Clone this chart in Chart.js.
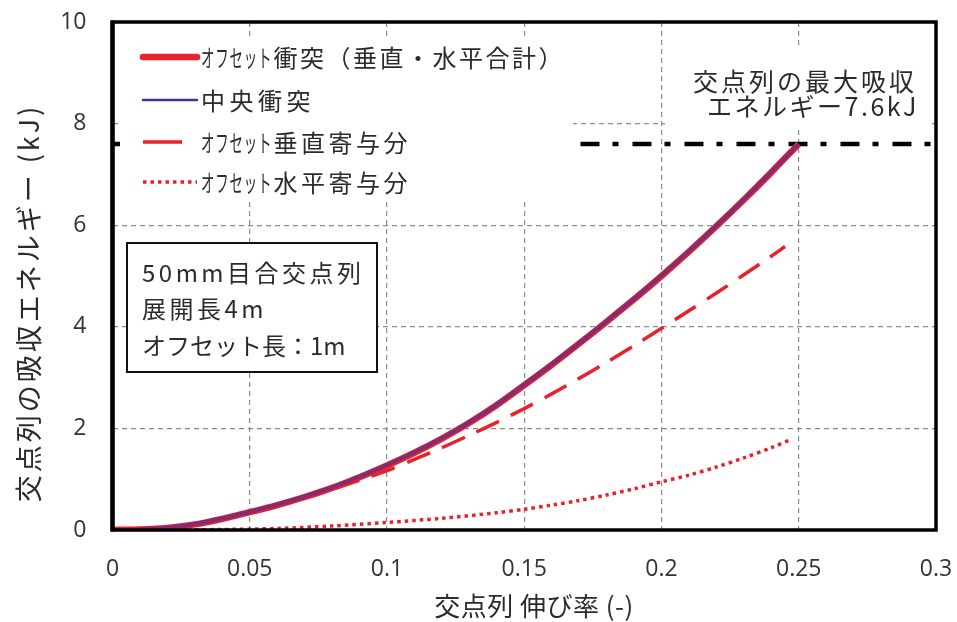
<!DOCTYPE html>
<html>
<head>
<meta charset="utf-8">
<script src="https://cdn.jsdelivr.net/npm/chart.js@4.4.1/dist/chart.umd.min.js"></script>
<style>
  html, body { margin: 0; padding: 0; background: #ffffff; }
  #wrap { width: 957px; height: 622px; }
</style>
</head>
<body>
<div id="wrap"><canvas id="chart" width="957" height="622"></canvas></div>
<script>
// 交点列 伸び率 (-) vs 吸収エネルギー (kJ)
const strainMain = [0, 0.01, 0.02, 0.03, 0.04, 0.05, 0.06, 0.07, 0.08, 0.09, 0.10, 0.11, 0.12,
                    0.13, 0.14, 0.15, 0.16, 0.17, 0.18, 0.19, 0.20, 0.21, 0.22, 0.23, 0.24, 0.25];
const energyOffsetTotal = [0, 0.01, 0.04, 0.11, 0.22, 0.35, 0.49, 0.65, 0.83, 1.04, 1.27, 1.52, 1.80,
                           2.11, 2.46, 2.85, 3.25, 3.67, 4.10, 4.54, 5.00, 5.48, 5.98, 6.50, 7.04, 7.60];
const energyCentral = [0, 0.01, 0.05, 0.12, 0.23, 0.36, 0.50, 0.66, 0.84, 1.05, 1.28, 1.53, 1.81,
                       2.12, 2.47, 2.86, 3.26, 3.68, 4.11, 4.55, 5.01, 5.49, 5.99, 6.51, 7.05, 7.60];

const strainVertical = [0, 0.02, 0.04, 0.05, 0.06, 0.07, 0.08, 0.09, 0.10, 0.11, 0.12, 0.13, 0.14,
                        0.15, 0.16, 0.17, 0.18, 0.19, 0.20, 0.21, 0.22, 0.23, 0.24, 0.245];
const energyVertical = [0, 0.04, 0.21, 0.33, 0.47, 0.63, 0.80, 0.98, 1.17, 1.39, 1.62, 1.865, 2.12,
                        2.39, 2.68, 2.985, 3.30, 3.63, 3.97, 4.315, 4.665, 5.025, 5.39, 5.58];

const strainHorizontal = [0, 0.02, 0.04, 0.06, 0.08, 0.10, 0.12, 0.14, 0.15, 0.16, 0.17, 0.18,
                          0.19, 0.20, 0.21, 0.22, 0.23, 0.24, 0.2475];
const energyHorizontal = [0, 0, 0.01, 0.03, 0.08, 0.15, 0.23, 0.34, 0.41, 0.49, 0.58, 0.69,
                          0.81, 0.95, 1.08, 1.24, 1.42, 1.62, 1.79];

const maxEnergy = 7.6;
const maxLineStrain = [0, 0.3];

const xTickLabels = ['0', '0.05', '0.1', '0.15', '0.2', '0.25', '0.3'];
const yTickLabels = ['0', '2', '4', '6', '8', '10'];

// legend entries: condensed katakana prefix + remaining text
const seriesPrefix = ['オフセット', '', 'オフセット', 'オフセット'];
const seriesRest = ['衝突（垂直・水平合計）', '中央衝突', '垂直寄与分', '水平寄与分'];
const infoLines = ['50mm目合交点列', '展開長4m', 'オフセット長：1m'];
const maxLabelLines = ['交点列の最大吸収', 'エネルギー7.6kJ'];
const xTitle = '交点列 伸び率 (-)';
const yTitle = '交点列の吸収エネルギー (kJ)';

const pairs = (xs, ys) => xs.map((v, i) => ({ x: v, y: ys[i] }));

const RED = '#e8212b';
const BLUE = 'rgba(70, 50, 160, 0.62)';
const TEXT = '#2b2b2b';
const JP = '"Noto Sans CJK JP", "Noto Sans", sans-serif';
const NUM = '"Open Sans", "Noto Sans", sans-serif';

function drawSpaced(ctx, text, x, y, spacing) {
  ctx.letterSpacing = spacing + 'px';
  ctx.fillText(text, x, y);
  ctx.letterSpacing = '0px';
}

// draws text squeezed horizontally, returns the drawn width
function drawCondensed(ctx, text, x, y, factor, spacing) {
  ctx.save();
  ctx.translate(x, y);
  ctx.scale(factor, 1);
  ctx.letterSpacing = spacing + 'px';
  ctx.fillText(text, 0, 0);
  const w = ctx.measureText(text).width * factor;
  ctx.restore();
  return w;
}

const decorations = {
  id: 'decorations',
  afterDatasetsDraw(chart) {
    const { ctx } = chart;
    ctx.save();

    // legend panel and annotation panel (white, hides the grid behind)
    ctx.fillStyle = '#ffffff';
    ctx.fillRect(120, 36, 453, 164);
    ctx.fillRect(665, 46, 263, 82);

    // legend samples
    const sx0 = 143, sx1 = 197;
    const rows = [57, 100, 142, 182];
    ctx.lineCap = 'round';
    ctx.strokeStyle = RED; ctx.lineWidth = 6.5;
    ctx.beginPath(); ctx.moveTo(sx0, rows[0]); ctx.lineTo(sx1, rows[0]); ctx.stroke();
    ctx.strokeStyle = 'rgb(58, 52, 150)'; ctx.lineWidth = 2.5;
    ctx.beginPath(); ctx.moveTo(sx0, rows[1]); ctx.lineTo(sx1, rows[1]); ctx.stroke();
    ctx.lineCap = 'butt';
    ctx.strokeStyle = RED; ctx.lineWidth = 3.5;
    ctx.beginPath(); ctx.moveTo(sx0, rows[2]); ctx.lineTo(182, rows[2]); ctx.stroke();
    ctx.lineWidth = 3.5; ctx.setLineDash([3.5, 4]);
    ctx.beginPath(); ctx.moveTo(sx0, rows[3]); ctx.lineTo(sx1, rows[3]); ctx.stroke();
    ctx.setLineDash([]);

    ctx.fillStyle = TEXT;
    ctx.textAlign = 'left';
    ctx.textBaseline = 'middle';
    ctx.font = '24px ' + JP;
    const rowSpacing = [2.5, 4.5, 3.5, 3.5];
    seriesRest.forEach((t, i) => {
      let x = 201;
      if (seriesPrefix[i]) x += drawCondensed(ctx, seriesPrefix[i], x, rows[i] + 1, 0.56, 1.5) + 1;
      drawSpaced(ctx, t, x, rows[i] + 1, rowSpacing[i]);
    });

    // maximum energy annotation
    ctx.textAlign = 'right';
    ctx.font = '25px ' + JP;
    drawSpaced(ctx, maxLabelLines[0], 917, 81, 3);
    drawSpaced(ctx, maxLabelLines[1], 919, 106, 2.5);

    // condition box
    ctx.fillStyle = '#ffffff';
    ctx.fillRect(127, 243, 250, 129);
    ctx.strokeStyle = '#111111'; ctx.lineWidth = 2;
    ctx.strokeRect(127, 243, 250, 129);
    ctx.fillStyle = TEXT;
    ctx.textAlign = 'left';
    ctx.font = '24px ' + JP;
    drawSpaced(ctx, infoLines[0], 142, 273, 3.5);
    drawSpaced(ctx, infoLines[1], 142, 309, 3.5);
    drawSpaced(ctx, infoLines[2], 142, 346, 0);

    ctx.restore();
  },
  afterDraw(chart) {
    const { ctx, chartArea: a } = chart;
    ctx.save();
    // plot frame
    ctx.strokeStyle = '#000000';
    ctx.lineWidth = 3.5;
    ctx.strokeRect(a.left, a.top, a.right - a.left, a.bottom - a.top);
    ctx.lineWidth = 4.5;
    ctx.beginPath(); ctx.moveTo(a.left, a.top - 1.5); ctx.lineTo(a.left, a.bottom + 1.5); ctx.stroke();

    // axis titles
    ctx.fillStyle = TEXT;
    ctx.textAlign = 'center';
    ctx.textBaseline = 'middle';
    ctx.font = '26px ' + JP;
    drawSpaced(ctx, xTitle, 534, 606, 0.5);

    ctx.translate(29, 303);
    ctx.rotate(-Math.PI / 2);
    ctx.font = '27px ' + JP;
    drawSpaced(ctx, yTitle, 0, 0, 3);
    ctx.restore();
  }
};

new Chart(document.getElementById('chart'), {
  type: 'scatter',
  data: {
    datasets: [
      { label: seriesRest[1], data: pairs(strainMain, energyCentral), showLine: true,
        borderColor: BLUE, borderWidth: 4, pointRadius: 0, tension: 0.3 },
      { label: seriesRest[0], data: pairs(strainMain, energyOffsetTotal), showLine: true,
        borderColor: RED, borderWidth: 6.5, pointRadius: 0, tension: 0.3 },
      { label: seriesRest[2], data: pairs(strainVertical, energyVertical), showLine: true,
        borderColor: RED, borderWidth: 3.5, borderDash: [25, 13], pointRadius: 0, tension: 0.3 },
      { label: seriesRest[3], data: pairs(strainHorizontal, energyHorizontal), showLine: true,
        borderColor: RED, borderWidth: 3.5, borderDash: [3.5, 4], pointRadius: 0, tension: 0.3 },
      { label: 'max', data: maxLineStrain.map(v => ({ x: v, y: maxEnergy })), showLine: true,
        borderColor: '#000000', borderWidth: 4.5, borderDash: [19, 13, 6, 14], pointRadius: 0 }
    ]
  },
  options: {
    responsive: false,
    animation: false,
    devicePixelRatio: 1,
    layout: { padding: { top: 22, right: 21, left: 0, bottom: 0 } },
    plugins: { legend: { display: false }, tooltip: { enabled: false } },
    scales: {
      x: {
        type: 'linear', min: 0, max: 0.3,
        afterBuildTicks: s => { s.ticks = xTickLabels.map(t => ({ value: parseFloat(t) })); },
        afterFit: s => { s.height = 92; s.paddingLeft = 0; s.paddingRight = 0; },
        ticks: { callback: (v, i) => xTickLabels[i], color: '#333333',
                 font: { family: NUM, size: 23 }, padding: 26, maxRotation: 0, autoSkip: false },
        grid: { color: '#8c8c8c', lineWidth: 1.2, drawTicks: false },
        border: { display: false, dash: [5, 4] }
      },
      y: {
        type: 'linear', min: 0, max: 10,
        afterBuildTicks: s => { s.ticks = yTickLabels.map(t => ({ value: parseFloat(t) })); },
        afterFit: s => { s.width = 112.5; s.paddingTop = 0; s.paddingBottom = 0; },
        ticks: { callback: (v, i) => yTickLabels[i], color: '#333333',
                 font: { family: NUM, size: 23 }, padding: 26 },
        grid: { color: '#8c8c8c', lineWidth: 1.2, drawTicks: false },
        border: { display: false, dash: [5, 4] }
      }
    }
  },
  plugins: [decorations]
});
</script>
</body>
</html>
